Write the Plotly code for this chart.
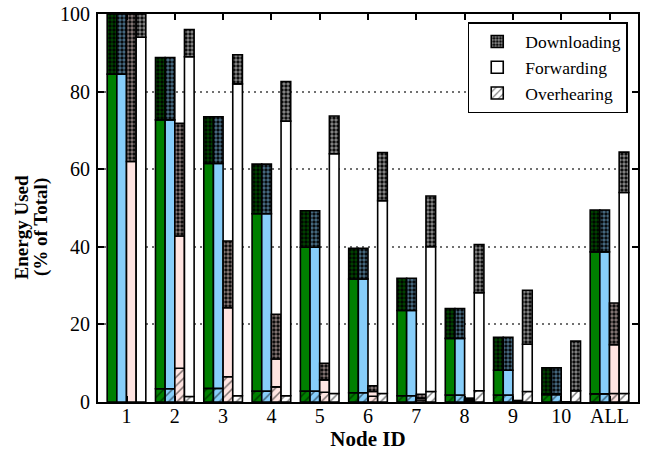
import plotly.graph_objects as go

nodes = ['1', '2', '3', '4', '5', '6', '7', '8', '9', '10', 'ALL']

# Four configurations per node (colour-coded), each split into three energy parts (% of total)
green_over = [0.0, 3.4, 3.5, 2.8, 2.8, 2.4, 1.6, 1.8, 1.8, 1.9, 2.1]
green_fwd = [84.5, 69.3, 58.0, 45.7, 37.1, 29.3, 22.0, 14.6, 6.4, 0.2, 36.6]
green_down = [15.5, 16.1, 12.0, 12.8, 9.4, 7.9, 8.3, 7.7, 8.5, 6.7, 10.8]

blue_over = [0.0, 3.4, 3.5, 2.8, 2.8, 2.4, 1.6, 1.8, 1.8, 1.9, 2.1]
blue_fwd = [84.5, 69.3, 58.0, 45.7, 37.1, 29.3, 22.0, 14.6, 6.4, 0.2, 36.6]
blue_down = [15.5, 16.1, 12.0, 12.8, 9.4, 7.9, 8.3, 7.7, 8.5, 6.7, 10.8]

pink_over = [0.0, 8.7, 6.5, 3.9, 2.5, 1.5, 0.5, 0.3, 0.1, 0.0, 2.2]
pink_fwd = [62.0, 34.1, 17.8, 7.2, 3.2, 1.2, 0.5, 0.3, 0.1, 0.0, 12.6]
pink_down = [38.0, 29.0, 17.2, 11.5, 4.3, 1.5, 1.0, 0.4, 0.2, 0.0, 10.7]

white_over = [0.0, 1.4, 1.6, 1.6, 2.2, 2.2, 2.7, 2.9, 2.7, 2.9, 2.2]
white_fwd = [94.0, 87.6, 80.4, 70.8, 61.8, 49.7, 37.3, 25.3, 12.2, 0.0, 51.8]
white_down = [6.0, 7.0, 7.5, 10.2, 9.7, 12.4, 13.1, 12.4, 13.9, 12.8, 10.4]

y_ticks = [0, 20, 40, 60, 80, 100]
y_title_lines = ['Energy Used', '(% of Total)']

configs = [
    ('g', '#008000', green_over, green_fwd, green_down),
    ('b', '#87CEFA', blue_over, blue_fwd, blue_down),
    ('p', '#FFE4E1', pink_over, pink_fwd, pink_down),
    ('w', '#FFFFFF', white_over, white_fwd, white_down),
]

FONT = 'Liberation Serif'
fig = go.Figure()

for key, color, over, fwd, down in configs:
    base_fwd = list(over)
    base_down = [o + f for o, f in zip(over, fwd)]
    is_legend = key == 'w'
    parts = [
        ('Overhearing', over, [0] * len(over), dict(shape='/', size=6, solidity=0.25, fgcolor='black', bgcolor=color), 3),
        ('Forwarding', fwd, base_fwd, dict(shape=''), 2),
        ('Downloading', down, base_down, dict(shape='.', size=4, solidity=0.6, fgcolor=color, bgcolor='black'), 1),
    ]
    for name, vals, base, pattern, rank in parts:
        fig.add_trace(go.Bar(
            x=nodes, y=vals, base=base, name=name,
            offsetgroup=key, showlegend=is_legend, legendrank=rank,
            marker=dict(color=color, line=dict(color='black', width=1.6), pattern=pattern),
        ))

fig.update_layout(
    width=650, height=452,
    margin=dict(l=98, r=12, t=14, b=50, autoexpand=False),
    paper_bgcolor='white', plot_bgcolor='white',
    barmode='group', bargap=0.2, bargroupgap=0,
    font=dict(family=FONT, size=20, color='black'),
    legend=dict(x=0.981, y=0.979, xanchor='right', yanchor='top',
                bgcolor='white', bordercolor='black', borderwidth=1.5,
                font=dict(family=FONT, size=17.5), traceorder='normal',
                itemwidth=46),
)
for i, line in enumerate(y_title_lines):
    fig.add_annotation(
        text='<b>' + line + '</b>', textangle=-90, showarrow=False,
        xref='paper', yref='paper', x=-0.1425 + i * 0.038, y=0.45,
        xanchor='center', yanchor='middle',
        font=dict(family=FONT, size=19),
    )
fig.update_xaxes(
    range=[-0.59, 10.59], automargin=False, showline=True, linecolor='black', linewidth=2, mirror='ticks',
    ticks='inside', ticklen=6, tickcolor='black', tickwidth=1.5,
    title=dict(text='<b>Node ID</b>', font=dict(family=FONT, size=21), standoff=0),
    tickfont=dict(family=FONT, size=20), ticklabelstandoff=-5,
)
fig.update_yaxes(
    range=[0, 100], automargin=False, tickvals=y_ticks, showline=True, linecolor='black', linewidth=2, mirror='ticks',
    ticks='inside', ticklen=6, tickcolor='black', tickwidth=1.5,
    showgrid=True, gridcolor='#707070', gridwidth=1.5, griddash='1.5px,4.5px', zeroline=False,
    tickfont=dict(family=FONT, size=20), ticklabelstandoff=2,
)

fig.write_html('out.html', config={'displayModeBar': False},
               post_script="document.body.style.margin='0';")
